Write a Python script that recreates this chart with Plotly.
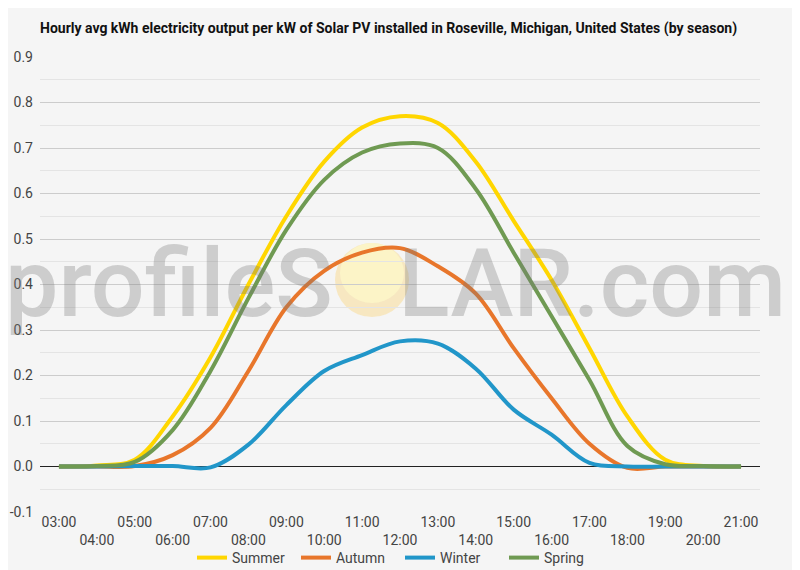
import plotly.graph_objects as go

# hourly averages, 03:00 .. 21:00
hours = list(range(3, 22))
hour_labels = [f"{h:02d}:00" if h % 2 else f"<br>{h:02d}:00" for h in hours]

summer = [0.0, 0.002, 0.015, 0.11, 0.24, 0.40, 0.55, 0.67, 0.745, 0.77,
          0.755, 0.67, 0.54, 0.41, 0.26, 0.11, 0.015, 0.001, 0.0]
autumn = [0.0, 0.0, 0.001, 0.025, 0.085, 0.21, 0.35, 0.43, 0.47, 0.48,
          0.44, 0.38, 0.26, 0.15, 0.05, -0.003, 0.0, 0.0, 0.0]
winter = [0.0, 0.0, 0.001, 0.001, -0.002, 0.048, 0.135, 0.21, 0.245, 0.275,
          0.27, 0.215, 0.125, 0.07, 0.008, 0.0, 0.0, 0.0, 0.0]
spring = [0.0, 0.001, 0.01, 0.08, 0.21, 0.37, 0.52, 0.63, 0.69, 0.71,
          0.70, 0.61, 0.47, 0.33, 0.19, 0.045, 0.005, 0.001, 0.0]

y_ticks = [-0.1, 0.0, 0.1, 0.2, 0.3, 0.4, 0.5, 0.6, 0.7, 0.8, 0.9]
y_labels = ["-0.1", "0.0", "0.1", "0.2", "0.3", "0.4", "0.5", "0.6", "0.7", "0.8", "0.9"]

series = [
    ("Summer", summer, "#ffd600"),
    ("Autumn", autumn, "#e8762b"),
    ("Winter", winter, "#2196c9"),
    ("Spring", spring, "#6f9a52"),
]

fig = go.Figure()
for name, vals, color in series:
    fig.add_trace(go.Scatter(
        x=hours, y=vals, name=name, mode="lines",
        line=dict(color=color, width=4, shape="spline", smoothing=1.0),
    ))

# sun in place of the "O" of the watermark
fig.add_shape(type="circle", xref="paper", yref="paper",
              x0=(335 - 40) / 720, x1=(409 - 40) / 720,
              y0=(512 - 317) / 455, y1=(512 - 243) / 455,
              fillcolor="rgba(248,228,180,0.8)", line=dict(width=0), layer="between")
fig.add_shape(type="circle", xref="paper", yref="paper",
              x0=(340 - 40) / 720, x1=(404 - 40) / 720,
              y0=(512 - 303) / 455, y1=(512 - 243) / 455,
              fillcolor="rgba(252,245,200,0.9)", line=dict(width=0), layer="between")

fig.add_annotation(
    text="profileS<span style='color:rgba(0,0,0,0)'>O</span>LAR.com",
    xref="paper", yref="paper", x=(395 - 40) / 720, y=(512 - 283) / 455,
    xanchor="center", yanchor="middle", showarrow=False,
    font=dict(family="Roboto", size=95, weight=500, color="rgba(120,120,120,0.32)"),
)

# the page body adds an 8px offset, so the figure is 8px smaller than the window
fig.update_layout(
    width=792, height=562,
    margin=dict(l=32, r=40, t=49, b=58),
    paper_bgcolor="#f5f5f5", plot_bgcolor="#f5f5f5",
    font=dict(family="Roboto", size=14, color="#444444"),
    title=dict(
        text="<b>Hourly avg kWh electricity output per kW of Solar PV installed in Roseville, Michigan, United States (by season)</b>",
        x=32 / 792, xanchor="left", y=1 - 20 / 562, yanchor="middle",
        font=dict(family="Roboto", size=14, color="#111111"),
    ),
    showlegend=True,
    legend=dict(orientation="h", x=0.5, xanchor="center",
                yref="container", y=1 - 550 / 562, yanchor="middle",
                entrywidth=59, entrywidthmode="pixels",
                font=dict(size=14, color="#444444"), bgcolor="rgba(0,0,0,0)"),
    hovermode=False,
)
fig.update_xaxes(
    range=[2.5, 21.5], tickvals=hours, ticktext=hour_labels,
    showgrid=False, zeroline=False, showline=False, ticks="",
    ticklabelstandoff=0, tickangle=0, automargin=False,
)
fig.update_yaxes(
    range=[-0.1, 0.9], tickvals=y_ticks, ticktext=y_labels,
    showgrid=True, gridcolor="#cccccc", gridwidth=1,
    zeroline=True, zerolinecolor="#222222", zerolinewidth=1,
    minor=dict(dtick=0.05, showgrid=True, gridcolor="#e4e4e4", gridwidth=1),
    ticks="", ticklabelstandoff=6, automargin=False,
)

fig.write_html("out.html")
